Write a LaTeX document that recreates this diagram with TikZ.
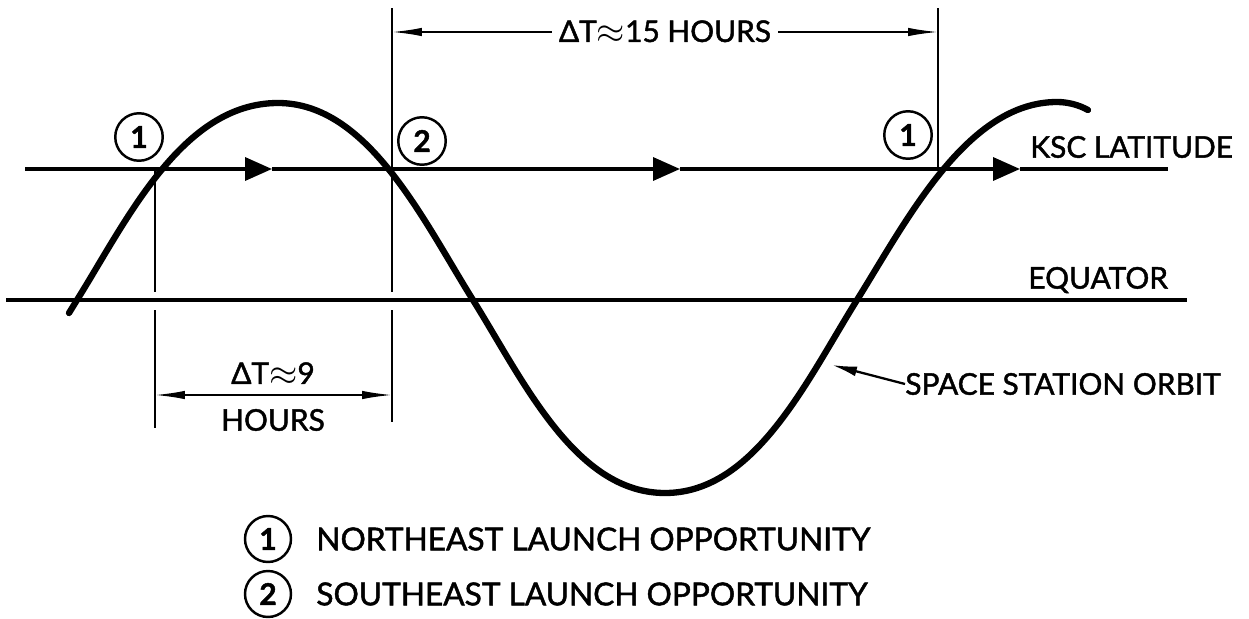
\documentclass[tikz,border=0pt]{standalone}
\usepackage{fontspec}
\setmainfont{Lato}[FakeBold=1.5]
\usetikzlibrary{arrows.meta}
\newcommand{\aprx}{{\fontsize{22}{22}\selectfont\raisebox{-1pt}{$\approx$}}}
\begin{document}
\begin{tikzpicture}[x=0.02cm,y=-0.02cm,
  lbl/.style={font=\fontsize{17}{20}\selectfont,inner sep=0pt},
  opnum/.style={draw,circle,line width=1.4pt,minimum size=0.95cm,inner sep=0pt,font=\fontsize{17}{20}\selectfont\bfseries},
  dimline/.style={line width=1pt,{Latex[length=0.6cm,width=0.17cm]}-{Latex[length=0.6cm,width=0.17cm]}},
  flow/.style={line width=2pt,-{Triangle[length=0.54cm,width=0.46cm]}},
  orbit/.style={line width=3.6pt,line cap=round}]
\useasboundingbox (0,0) rectangle (1249,619);
% latitude lines
\coordinate (ksc w) at (25,169);
\coordinate (ksc a) at (272,169);
\coordinate (ksc b) at (680,169);
\coordinate (ksc c) at (1020,169);
\coordinate (ksc e) at (1168,169);
\draw[flow] (ksc w) -- (ksc a);
\draw[flow] (ksc a) -- (ksc b);
\draw[flow] (ksc b) -- (ksc c);
\draw[line width=2pt] (ksc c) -- (ksc e);
\coordinate (eq w) at (6,300);
\coordinate (eq e) at (1187,300);
\draw[line width=2pt] (eq w) -- (eq e);
\node[lbl,anchor=west] (ksc) at (1030,147) {KSC LATITUDE};
\node[lbl,anchor=west] (eq) at (1028,280) {EQUATOR};
% time marks
\draw[line width=1pt] (155,169) -- (155,292) (155,310) -- (155,428);
\draw[line width=1pt] (392,8) -- (392,292) (392,310) -- (392,422);
\draw[line width=1pt] (938,8) -- (938,169);
\coordinate (top l) at (392,32);
\coordinate (top r) at (938,32);
\draw[dimline] (top l) -- node[lbl,fill=white,inner xsep=4pt] (dt15) {ΔT\aprx15 HOURS} (top r);
\coordinate (bot l) at (155,395);
\coordinate (bot r) at (392,395);
\draw[dimline] (bot l) -- (bot r);
\node[lbl] (dt9) at (273,374) {ΔT\aprx9};
\node[lbl] (hrs) at (273,420) {HOURS};
% orbit ground track
\draw[orbit] (69,313) -- (77,300)
  .. controls (127,220) and (182,103) .. (278,103)
  .. controls (368,103) and (423,220) .. (473,300)
  .. controls (523,380) and (575,493) .. (665,493)
  .. controls (755,493) and (807,380) .. (857,300)
  .. controls (907,220) and (967,102) .. (1057,102)
  .. controls (1068,102) and (1079,105) .. (1088,110);
\node[lbl,anchor=west] (sso) at (905,384) {SPACE STATION ORBIT};
\coordinate (orbit pt) at (832,365);
\draw[line width=1.3pt,-{Latex[length=0.5cm,width=0.2cm]}] (sso.west) -- (orbit pt);
% launch opportunities
\node[opnum] (ne1) at (139,137) {1};
\node[opnum] (se2) at (422,141) {2};
\node[opnum] (ne2) at (908,135) {1};
% legend
\node[opnum,minimum size=0.92cm] (key1) at (268,539) {1};
\node[opnum,minimum size=0.92cm] (key2) at (268,594) {2};
\node[lbl,anchor=west,font=\fontsize{18}{21}\selectfont] (key1 txt) at (316,539) {NORTHEAST LAUNCH OPPORTUNITY};
\node[lbl,anchor=west,font=\fontsize{18}{21}\selectfont] (key2 txt) at (316,594) {SOUTHEAST LAUNCH OPPORTUNITY};
\end{tikzpicture}
\end{document}
